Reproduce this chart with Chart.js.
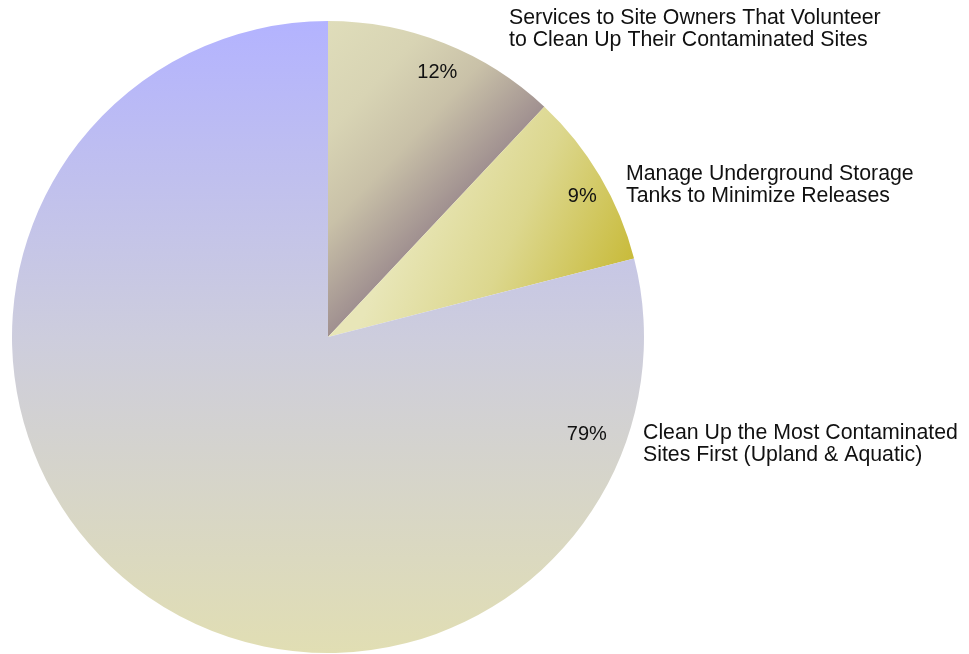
<!DOCTYPE html>
<html>
<head>
<meta charset="utf-8">
<script src="https://cdn.jsdelivr.net/npm/chart.js@4"></script>
<style>
  html, body { margin: 0; padding: 0; background: #fff; }
  #wrap { width: 969px; height: 654px; position: relative; }
</style>
</head>
<body>
<div id="wrap"><canvas id="budget-pie"></canvas></div>
<script>
// program areas and their share of the budget (percent)
const categories = [
    ['Services to Site Owners That Volunteer', 'to Clean Up Their Contaminated Sites'],
    ['Manage Underground Storage', 'Tanks to Minimize Releases'],
    ['Clean Up the Most Contaminated', 'Sites First (Upland & Aquatic)']
];
const shares = [12, 9, 79];

// where each name sits (left edge, first baseline) and where the % text goes
const namePos = [[509, 24], [626, 180], [643, 439]];
const pctAngle = [0.52, 0.55, 0.123];   // fraction through the slice
const pctRadius = [0.905, 0.92, 0.875];

const FONT = '"Liberation Sans", Arial, sans-serif';

// angle (canvas radians) where slice i ends, pie starts at 12 o'clock
function sliceEnd(i) {
    const total = shares.reduce((a, b) => a + b, 0);
    const upto = shares.slice(0, i + 1).reduce((a, b) => a + b, 0);
    return -Math.PI / 2 + 2 * Math.PI * upto / total;
}

function sliceFill(context) {
    const chart = context.chart;
    const { ctx, chartArea } = chart;
    if (!chartArea) return '#ccc';
    const cx = (chartArea.left + chartArea.right) / 2;
    const cy = (chartArea.top + chartArea.bottom) / 2;
    const R = Math.min(chartArea.width, chartArea.height) / 2;
    const i = context.dataIndex;
    let g;
    if (i === 0) {
        // darkens toward the slice's clockwise edge
        const e = sliceEnd(0);
        const nx = Math.sin(e), ny = -Math.cos(e);
        const d = R * 0.68;
        g = ctx.createLinearGradient(cx + nx * d, cy + ny * d, cx, cy);
        g.addColorStop(0, '#dfddba');
        g.addColorStop(0.35, '#d8d4b4');
        g.addColorStop(0.65, '#c9c1a8');
        g.addColorStop(1, '#a09090');
    } else if (i === 1) {
        g = ctx.createLinearGradient(cx + 100, cy - 167, cx + 312, cy - 72);
        g.addColorStop(0, '#e8e6b8');
        g.addColorStop(0.45, '#dcd78e');
        g.addColorStop(1, '#c7b935');
    } else {
        g = ctx.createLinearGradient(0, chartArea.top, 0, chartArea.bottom);
        g.addColorStop(0, '#b3b3ff');
        g.addColorStop(0.5, '#cdcddd');
        g.addColorStop(1, '#e1deb3');
    }
    return g;
}

const sliceLabels = {
    id: 'sliceLabels',
    afterDatasetsDraw(chart) {
        const ctx = chart.ctx;
        const arcs = chart.getDatasetMeta(0).data;
        ctx.save();
        ctx.fillStyle = '#111';
        arcs.forEach((arc, i) => {
            const a = arc.startAngle + (arc.endAngle - arc.startAngle) * pctAngle[i];
            const r = arc.outerRadius * pctRadius[i];
            ctx.font = '20px ' + FONT;
            ctx.textAlign = 'center';
            ctx.textBaseline = 'middle';
            ctx.fillText(shares[i] + '%', arc.x + Math.cos(a) * r, arc.y + Math.sin(a) * r);

            ctx.font = '21.3px ' + FONT;
            ctx.textAlign = 'left';
            ctx.textBaseline = 'alphabetic';
            categories[i].forEach((line, k) => {
                ctx.fillText(line, namePos[i][0], namePos[i][1] + k * 22);
            });
        });
        ctx.restore();
    }
};

const ctx = document.getElementById('budget-pie').getContext('2d');
new Chart(ctx, {
    type: 'pie',
    data: {
        labels: categories.map(c => c.join(' ')),
        datasets: [{
            data: shares,
            backgroundColor: sliceFill,
            borderWidth: 0,
        }],
    },
    options: {
        responsive: true,
        maintainAspectRatio: false,
        animation: false,
        layout: { padding: { left: 12, right: 325, top: 21, bottom: 1 } },
        plugins: {
            legend: { display: false },
            tooltip: { enabled: false },
        },
    },
    plugins: [sliceLabels],
});
</script>
</body>
</html>
